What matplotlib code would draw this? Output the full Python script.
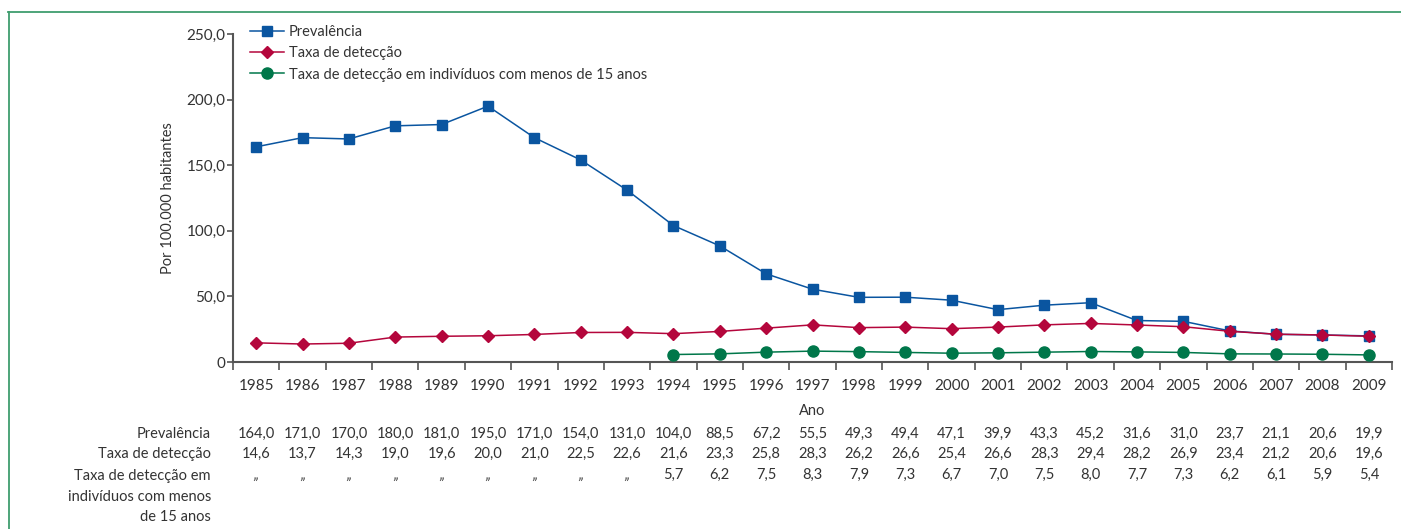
import matplotlib
matplotlib.use("Agg")
import matplotlib.pyplot as plt
import matplotlib.transforms as mtransforms
from matplotlib.lines import Line2D
import numpy as np

years = list(range(1985, 2010))
prevalencia = [164.0, 171.0, 170.0, 180.0, 181.0, 195.0, 171.0, 154.0, 131.0, 104.0, 88.5, 67.2,
               55.5, 49.3, 49.4, 47.1, 39.9, 43.3, 45.2, 31.6, 31.0, 23.7, 21.1, 20.6, 19.9]
deteccao = [14.6, 13.7, 14.3, 19.0, 19.6, 20.0, 21.0, 22.5, 22.6, 21.6, 23.3, 25.8,
            28.3, 26.2, 26.6, 25.4, 26.6, 28.3, 29.4, 28.2, 26.9, 23.4, 21.2, 20.6, 19.6]
menores15 = [None] * 9 + [5.7, 6.2, 7.5, 8.3, 7.9, 7.3, 6.7, 7.0, 7.5, 8.0, 7.7, 7.3, 6.2, 6.1, 5.9, 5.4]

series_names = ["Prevalência", "Taxa de detecção", "Taxa de detecção em indivíduos com menos de 15 anos"]
row_labels = ["Prevalência", "Taxa de detecção", "Taxa de detecção em\nindivíduos com menos\nde 15 anos"]
yticks = [0, 50, 100, 150, 200, 250]
ytick_labels = ["0", "50,0", "100,0", "150,0", "200,0", "250,0"]

BLUE = "#0a55a0"
RED = "#b4063c"
GREEN = "#00774a"
TXT = "#333333"
AX = "#555555"

plt.rcParams['font.family'] = ['Lato', 'DejaVu Sans']

W, H = 1401, 529
fig = plt.figure(figsize=(W / 100, H / 100), dpi=100)

# green frame
fig.add_artist(Line2D([8 / W, 1], [1 - 12 / H, 1 - 12 / H], color="#3f9d6e", lw=1.3))
fig.add_artist(Line2D([9 / W, 9 / W], [1 - 12 / H, 0], color="#3f9d6e", lw=1.3))

x0, x1 = 233, 1392
y0, y1 = 362, 34
ax = fig.add_axes([x0 / W, 1 - y0 / H, (x1 - x0) / W, (y0 - y1) / H])

xs = np.arange(len(years))
m15_x = [i for i, v in zip(xs, menores15) if v is not None]
m15_y = [v for v in menores15 if v is not None]

ax.plot(xs, prevalencia, color=BLUE, lw=1.1, marker="s", ms=7.6, mfc=BLUE, mec=BLUE,
        label=series_names[0], zorder=3)
ax.plot(xs, deteccao, color=RED, lw=1.1, marker="D", ms=6.4, mfc=RED, mec=RED,
        label=series_names[1], zorder=4)
ax.plot(m15_x, m15_y, color=GREEN, lw=1.1, marker="o", ms=8, mfc=GREEN, mec=GREEN,
        label=series_names[2], zorder=4)

ax.set_xlim(-0.5, len(years) - 0.5)
ax.set_ylim(0, 250)
ax.set_yticks(yticks)
ax.set_yticklabels(ytick_labels)
ax.set_xticks(np.arange(-0.5, len(years), 1.0))
ax.set_xticklabels([])
ax.set_xticks(xs, minor=True)
ax.set_xticklabels([str(y) for y in years], minor=True)
ax.tick_params(axis="x", which="major", direction="out", length=5.5, width=1.2, color=AX)
ax.tick_params(axis="x", which="minor", length=0, pad=12.5, labelsize=11, labelcolor=TXT)
ax.tick_params(axis="y", direction="out", length=4.5, width=1.2, color=AX, labelsize=11,
               labelcolor=TXT, pad=1)
for s in ["top", "right"]:
    ax.spines[s].set_visible(False)
for s in ["left", "bottom"]:
    ax.spines[s].set_color(AX)
    ax.spines[s].set_linewidth(1.5)
ax.patch.set_alpha(0)

ax.set_ylabel("Por 100.000 habitantes", fontsize=10.5, color=TXT, labelpad=8)
ax.text(0.5, -0.15, "Ano", transform=ax.transAxes, ha="center", va="center", fontsize=10.5, color=TXT)

leg = ax.legend(loc="upper left", bbox_to_anchor=(250 / W, 1 - 25 / H),
                bbox_transform=fig.transFigure, frameon=False, fontsize=10.5,
                handlelength=2.3, handletextpad=0.35, labelspacing=0.5, borderaxespad=0,
                borderpad=0, labelcolor=TXT)

# table below
def fmt(v):
    return f"{v:.1f}".replace(".", ",")

label_x = 211
r1, r2, r3 = 434, 454, 475
fig.text(label_x / W, 1 - r1 / H, row_labels[0], ha="right", va="center", fontsize=10.5, color=TXT)
fig.text(label_x / W, 1 - r2 / H, row_labels[1], ha="right", va="center", fontsize=10.5, color=TXT)
fig.text(label_x / W, 1 - 469 / H, row_labels[2], ha="right", va="top", fontsize=10.5, color=TXT,
         linespacing=1.6)

blend = mtransforms.blended_transform_factory(ax.transData, fig.transFigure)
for i in xs:
    ax.text(i, 1 - r1 / H, fmt(prevalencia[i]), transform=blend, ha="center", va="center",
            fontsize=10.5, color=TXT, clip_on=False)
    ax.text(i, 1 - r2 / H, fmt(deteccao[i]), transform=blend, ha="center", va="center",
            fontsize=10.5, color=TXT, clip_on=False)
    v = menores15[i]
    ax.text(i, 1 - r3 / H, "„" if v is None else fmt(v), transform=blend, ha="center",
            va="center", fontsize=10.5, color=TXT, clip_on=False,
            style="italic" if v is None else "normal")

fig.savefig("out.png", dpi=100)
